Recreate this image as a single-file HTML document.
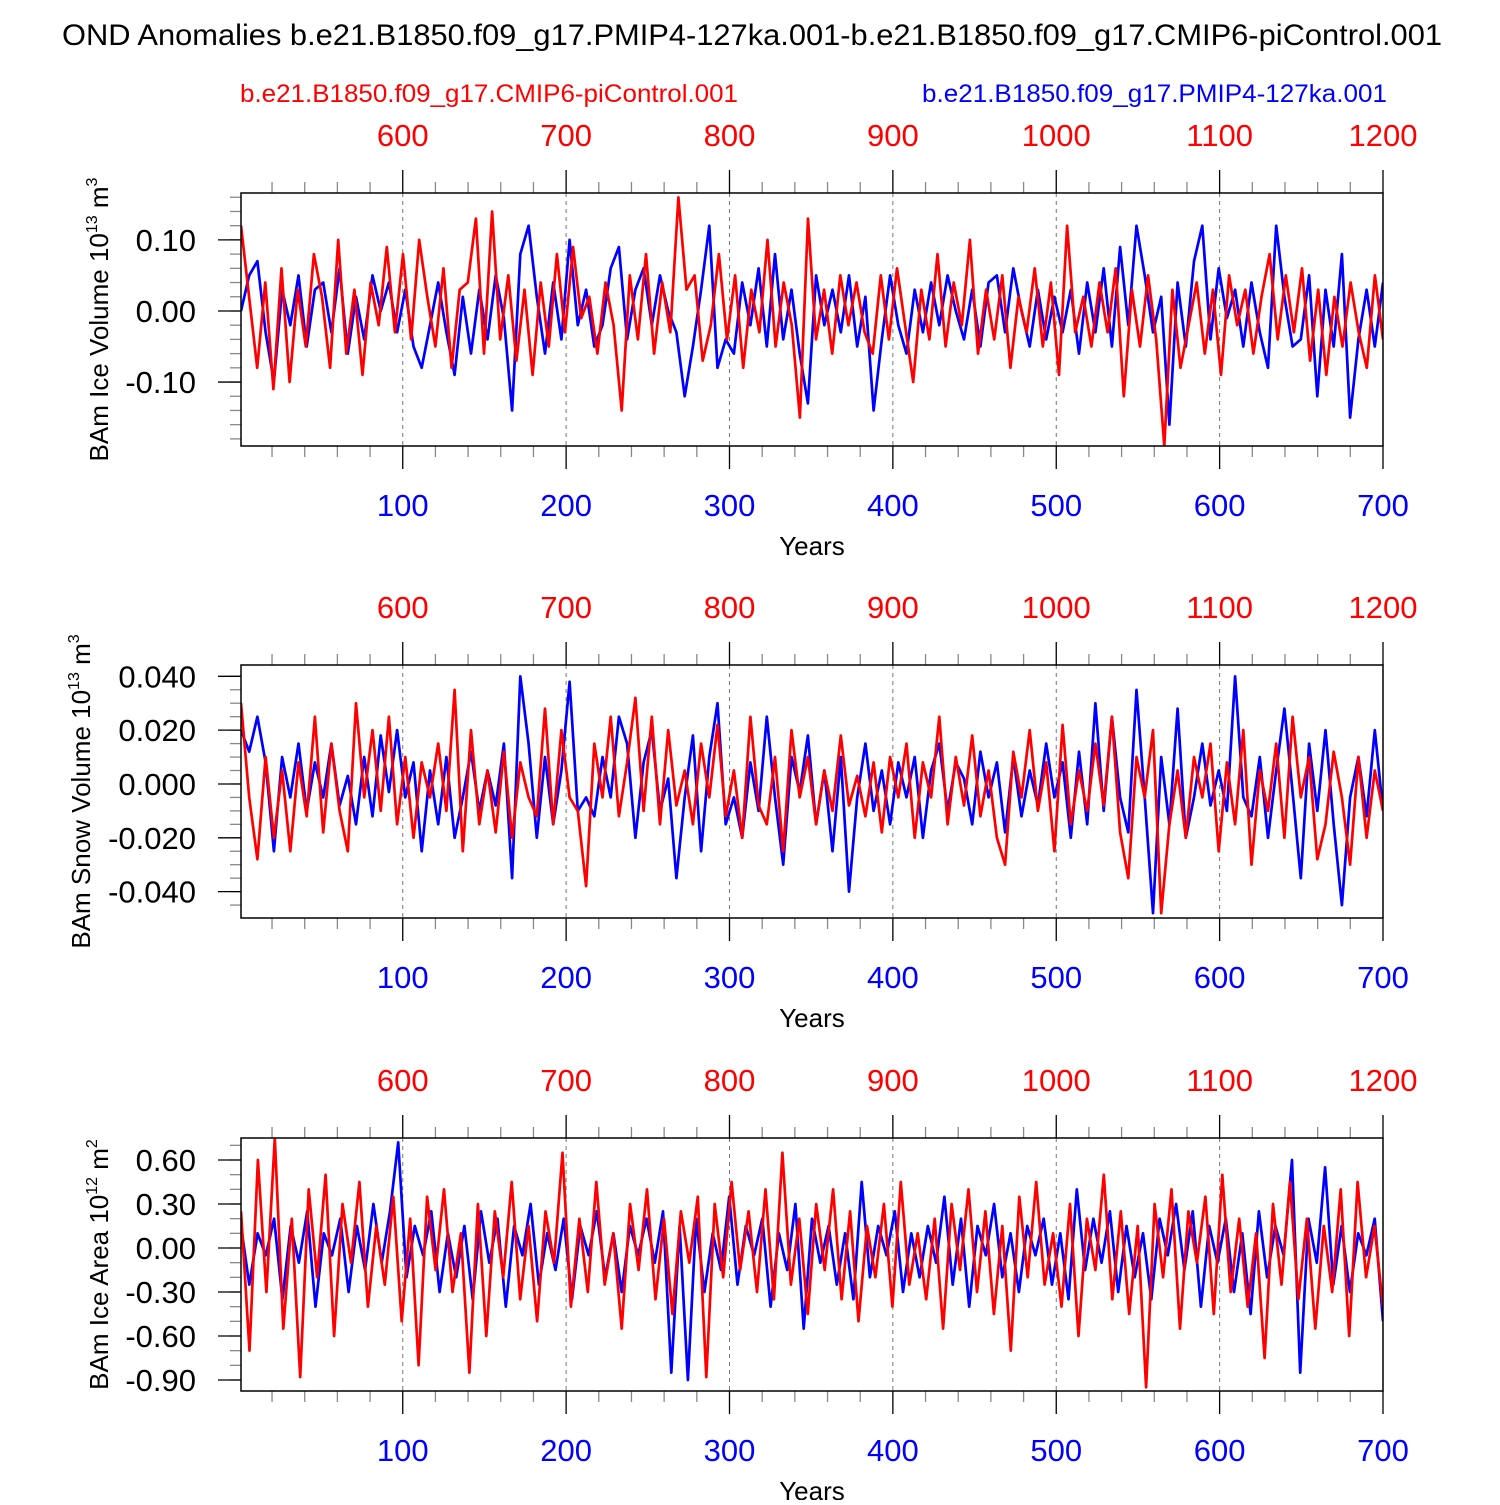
<!DOCTYPE html>
<html><head><meta charset="utf-8"><style>
html,body{margin:0;padding:0;background:#fff;}
svg text{font-family:"Liberation Sans",sans-serif;}
</style></head><body>
<svg id="chart" xmlns="http://www.w3.org/2000/svg" width="1500" height="1500" viewBox="0 0 1500 1500">
<text x="752" y="45" font-size="29.5" text-anchor="middle" textLength="1380" lengthAdjust="spacingAndGlyphs">OND Anomalies b.e21.B1850.f09_g17.PMIP4-127ka.001-b.e21.B1850.f09_g17.CMIP6-piControl.001</text>
<text x="240" y="102" font-size="25" fill="#ff0000" textLength="498" lengthAdjust="spacingAndGlyphs">b.e21.B1850.f09_g17.CMIP6-piControl.001</text>
<text x="922" y="102" font-size="25" fill="#0000ff" textLength="465" lengthAdjust="spacingAndGlyphs">b.e21.B1850.f09_g17.PMIP4-127ka.001</text>
</svg>
<script>
// Panel 1: ice volume (units 0.01 x 10^13 m3), sampled every ~5 years
const iceVolBlue=[0,5,7,-3,-10,3,-2,5,-5,3,4,-3,6,-6,2,-4,5,0,4,-3,3,-5,-8,-2,4,-3,-9,2,-6,3,-4,5,-1,-14,8,12,2,-6,4,-4,10,-2,3,-5,-2,6,9,-4,3,6,-2,5,0,-3,-12,-5,3,12,-8,-4,-6,4,-2,6,-5,8,-4,3,-6,-13,5,-2,3,-3,5,-5,2,-14,-4,5,-2,-6,3,-3,4,-2,5,0,-4,3,-5,4,5,-3,6,0,-5,3,-4,2,-3,3,-6,4,-3,6,-5,9,-2,12,5,-3,2,-16,4,-5,7,12,-4,6,-1,3,-5,4,-3,-8,12,2,-5,-4,5,-12,3,-5,8,-15,-4,3,-5,4];
const iceVolRed=[12,2,-8,4,-11,6,-10,3,-5,8,2,-8,10,-6,3,-9,4,-2,9,-3,8,-4,10,2,-5,6,-8,3,4,13,-6,14,-4,5,-7,3,-9,4,-5,8,-3,9,-1,2,-6,4,-2,-14,5,-4,8,-6,4,-3,16,3,5,-7,-2,8,-4,5,-8,3,-3,10,-5,4,-2,-15,13,-4,3,-6,5,-2,4,-3,-6,5,-4,6,-2,-10,3,-4,8,-5,4,-2,10,-6,3,-4,5,-8,2,-3,6,-5,4,-9,12,-3,2,-5,4,-3,6,-12,3,-5,5,-4,-19,3,-8,-2,4,-6,3,-9,5,-2,3,-6,2,8,-4,5,-3,6,-7,3,-9,2,-5,4,-3,-8,5,-4];
// Panel 2: snow volume (units 0.001 x 10^13 m3)
const snowBlue=[20,12,25,8,-25,10,-5,15,-10,8,-5,15,-8,3,-15,10,-12,18,-3,20,-5,8,-25,5,-15,10,-20,-5,12,-10,5,-8,15,-35,40,15,-20,10,-15,5,38,-10,-5,-12,10,-5,25,15,-20,8,20,-10,2,-35,-5,18,-25,10,30,-15,-5,-20,8,-10,25,-5,-30,10,-3,18,-15,5,-25,10,-40,-5,15,-10,5,-15,8,-5,10,-20,5,15,-10,8,2,-15,12,-5,8,-18,10,-12,5,-8,15,-5,8,-20,12,-15,30,-10,25,-5,-18,35,-5,-48,10,-15,28,-20,-5,15,-8,5,-10,40,-5,-12,10,-20,5,28,-3,-35,15,-10,20,-15,-45,-5,10,-12,20,-10];
const snowRed=[30,-5,-28,10,-20,5,-25,8,-12,25,-18,15,-10,-25,30,-5,20,-10,25,-15,10,-20,8,-5,15,-10,35,-25,20,-15,5,-18,12,-20,8,-5,-12,28,-15,20,-5,-10,-38,15,-5,25,-12,8,32,-10,25,-15,20,-8,5,-15,15,-5,22,-12,5,-20,25,-8,-15,10,-25,20,-5,10,-15,5,-10,18,-8,3,-12,8,-18,10,-5,15,-20,8,-5,25,-15,10,-8,18,-12,5,-20,-30,12,-5,20,-10,8,-25,22,-15,5,-10,15,-8,25,-18,-35,10,-5,20,-48,-15,5,-20,10,-5,15,-25,8,-15,20,-30,5,-10,15,-20,25,-5,10,-28,-15,12,-5,-30,10,-20,5,-10];
// Panel 3: ice area (units 0.01 x 10^12 m2)
const areaBlue=[15,-25,10,-5,20,-35,15,-10,25,-40,10,-5,20,-30,15,-15,30,-10,25,72,-20,15,-5,25,-30,10,-20,15,-35,25,-10,20,-40,15,-5,30,-25,10,-15,20,-35,15,-5,25,-20,10,-30,15,-5,20,-10,25,-85,15,-90,20,-30,10,-15,35,-25,15,-5,20,-40,10,-15,30,-55,20,-10,15,-25,10,-35,45,-20,15,-5,25,-30,10,-20,15,-10,35,-25,20,-40,15,-5,30,-20,10,-30,15,-5,20,-25,10,-35,40,-15,20,-10,25,-30,15,-20,10,-35,20,-5,30,-15,25,-40,15,-10,20,-30,10,-45,25,-20,15,-5,60,-85,20,-10,55,-25,15,-30,10,-5,20,-50];
const areaRed=[25,-70,60,-30,75,-55,20,-88,40,-20,50,-60,30,-10,45,-40,15,-25,35,-50,20,-80,35,-15,40,-30,10,-85,30,-60,25,-20,45,-35,15,-50,25,-10,65,-40,20,-30,45,-25,10,-55,30,-15,40,-35,20,-45,25,-10,35,-88,30,-20,45,-15,25,-30,40,-35,65,-25,20,-45,30,-15,40,-35,25,-50,15,-20,30,-40,45,-25,10,-35,20,-55,30,-15,40,-30,25,-45,15,-70,35,-20,45,-25,10,-40,30,-60,20,-15,50,-35,25,-45,15,-95,30,-20,40,-55,25,-10,35,-45,50,-30,20,-40,10,-75,30,-25,45,-35,20,-55,15,-30,40,-60,45,-20,15,-40];
const bottomTicks=[100,200,300,400,500,600,700];
const topTicks=[600,700,800,900,1000,1100,1200];

const NS="http://www.w3.org/2000/svg";
const svg=document.getElementById('chart');
function mk(tag,attrs,parent){const e=document.createElementNS(NS,tag);for(const k in attrs)e.setAttribute(k,attrs[k]);(parent||svg).appendChild(e);return e;}
const X0=241,X1=1383;
function xs(yr){return X0+(yr-1)*(X1-X0)/699;}

const panels=[
 {top:193,bot:446,min:-0.19,max:0.166,scale:0.01,majors:[-0.1,0,0.1],minStep:0.02,minFrom:-0.18,minTo:0.16,fmt:2,blue:iceVolBlue,red:iceVolRed,title:'BAm Ice Volume 10',exp:'13',unit:' m',uexp:'3',name:'ice-volume',tx:108},
 {top:665,bot:918,min:-0.0498,max:0.0442,scale:0.001,majors:[-0.04,-0.02,0,0.02,0.04],minStep:0.005,minFrom:-0.045,minTo:0.04,fmt:3,blue:snowBlue,red:snowRed,title:'BAm Snow Volume 10',exp:'13',unit:' m',uexp:'3',name:'snow-volume',tx:90},
 {top:1138,bot:1391,min:-0.975,max:0.75,scale:0.01,majors:[-0.9,-0.6,-0.3,0,0.3,0.6],minStep:0.1,minFrom:-0.9,minTo:0.7,fmt:2,blue:areaBlue,red:areaRed,title:'BAm Ice Area 10',exp:'12',unit:' m',uexp:'2',name:'ice-area',tx:108}
];

panels.forEach(p=>{
 const g=mk('g',{});
 
 
 const ys=v=>p.bot-(v-p.min)*(p.bot-p.top)/(p.max-p.min);
 bottomTicks.slice(0,6).forEach(t=>{
  const l=mk('line',{x1:xs(t),x2:xs(t),y1:p.top,y2:p.bot,stroke:'#777','stroke-width':1,'stroke-dasharray':'4,4'},g);
  
  
 });
 for(let yr=20;yr<=700;yr+=20){
  if(yr%100===0)continue;
  const x=xs(yr);
  mk('line',{x1:x,x2:x,y1:p.top,y2:p.top-11,stroke:'#888','stroke-width':1.3},g);
  mk('line',{x1:x,x2:x,y1:p.bot,y2:p.bot+11,stroke:'#888','stroke-width':1.3},g);
 }
 bottomTicks.forEach((t,i)=>{
  const x=xs(t);
  mk('line',{x1:x,x2:x,y1:p.top,y2:p.top-23,stroke:'#000','stroke-width':1.3},g);
  mk('line',{x1:x,x2:x,y1:p.bot,y2:p.bot+23,stroke:'#000','stroke-width':1.3},g);
  const b=mk('text',{x:x,y:p.bot+70,'font-size':31,fill:'#0000ff','text-anchor':'middle'},g);
  b.textContent=t;
  
  
  const tt=mk('text',{x:x,y:p.top-47,'font-size':31,fill:'#ff0000','text-anchor':'middle'},g);
  tt.textContent=topTicks[i];
  
  
 });
 const yt=mk('text',{x:812,y:p.bot+109,'font-size':26,'text-anchor':'middle'},g);
 yt.textContent='Years';
 
 
 for(let v=p.minFrom;v<=p.minTo+1e-9;v+=p.minStep){
  const y=ys(v);
  mk('line',{x1:X0,x2:X0-11,y1:y,y2:y,stroke:'#888','stroke-width':1.3},g);
 }
 p.majors.forEach(v=>{
  const y=ys(v);
  mk('line',{x1:X0,x2:X0-23,y1:y,y2:y,stroke:'#000','stroke-width':1.3},g);
  const t=mk('text',{x:196,y:y+11,'font-size':31,'text-anchor':'end'},g);
  t.textContent=(Math.abs(v)<1e-9?0:v).toFixed(p.fmt);
  
  
 });
 const cy=(p.top+p.bot)/2;
 const tl=mk('text',{x:0,y:0,'font-size':26,'text-anchor':'middle',transform:`translate(${p.tx},${cy}) rotate(-90)`},g);
 
 
 tl.appendChild(document.createTextNode(p.title));
 const s1=mk('tspan',{'font-size':16,dy:-11},tl);s1.textContent=p.exp;
 const s2=mk('tspan',{dy:11},tl);s2.textContent=p.unit;
 const s3=mk('tspan',{'font-size':16,dy:-11},tl);s3.textContent=p.uexp;
 const clipId='clip'+p.name;
 const cp=mk('clipPath',{id:clipId},g);
 mk('rect',{x:X0,y:p.top,width:X1-X0,height:p.bot-p.top},cp);
 [['blue',p.blue,'#0000ff'],['red',p.red,'#ff0000']].forEach(([nm,arr,col])=>{
  const step=699/(arr.length-1);
  const pts=arr.map((v,i)=>xs(1+i*step).toFixed(1)+','+ys(v*p.scale).toFixed(1)).join(' ');
  const pl=mk('polyline',{points:pts,fill:'none',stroke:col,'stroke-width':2.7,'stroke-linejoin':'round','clip-path':`url(#${clipId})`},g);
  
  
 });
 const fr=mk('rect',{x:X0,y:p.top,width:X1-X0,height:p.bot-p.top,fill:'none',stroke:'#000','stroke-width':1.5},g);
 
 
});
</script>
</body></html>
